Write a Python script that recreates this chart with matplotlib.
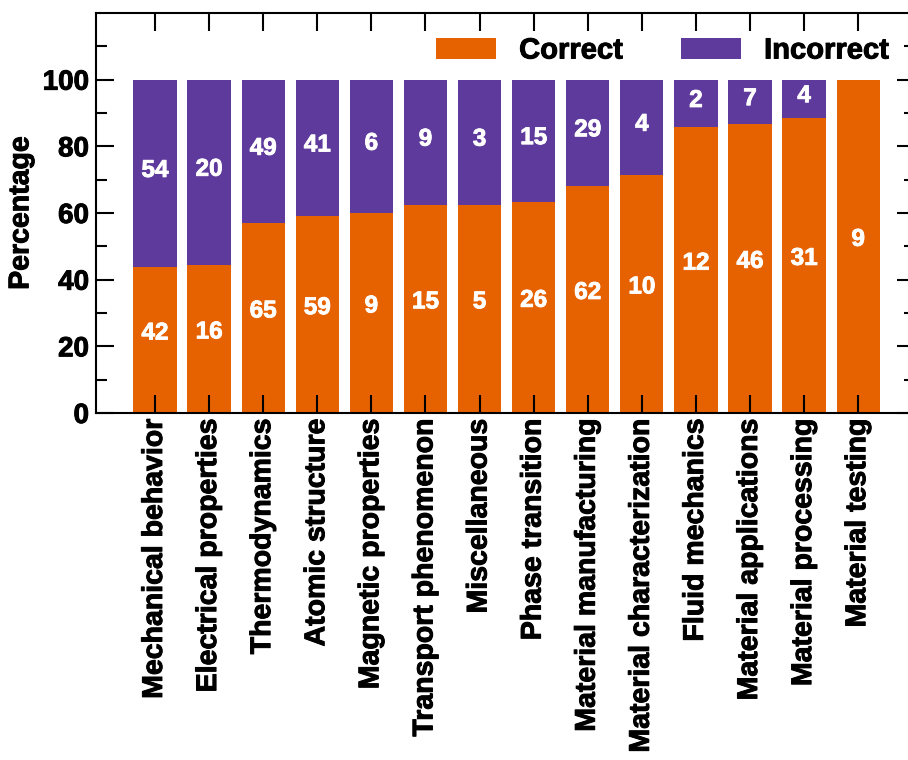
import matplotlib
matplotlib.use("Agg")
import matplotlib.pyplot as plt
import matplotlib.patheffects as pe
import numpy as np
from matplotlib.ticker import FixedLocator

plt.rcParams['font.family'] = ['Liberation Sans', 'DejaVu Sans']
plt.rcParams['font.weight'] = 'bold'
plt.rcParams['axes.labelweight'] = 'bold'

categories = ["Mechanical behavior", "Electrical properties", "Thermodynamics",
              "Atomic structure", "Magnetic properties", "Transport phenomenon",
              "Miscellaneous", "Phase transition", "Material manufacturing",
              "Material characterization", "Fluid mechanics", "Material applications",
              "Material processing", "Material testing"]
correct = [42, 16, 65, 59, 9, 15, 5, 26, 62, 10, 12, 46, 31, 9]
incorrect = [54, 20, 49, 41, 6, 9, 3, 15, 29, 4, 2, 7, 4, 0]

c_arr = np.array(correct, dtype=float)
i_arr = np.array(incorrect, dtype=float)
tot = c_arr + i_arr
pc = c_arr / tot * 100
pi = i_arr / tot * 100

orange = '#E66100'
purple = '#5D3A9B'

heavy = [pe.withStroke(linewidth=0.7, foreground='black')]
heavy_w = [pe.withStroke(linewidth=0.6, foreground='white')]

W, H = 908, 760
fig = plt.figure(figsize=(W / 100, H / 100), dpi=100)
ax = fig.add_axes([96 / W, (H - 413) / H, 819 / W, 400 / H])

x = np.arange(len(categories))
b1 = ax.bar(x, pc, width=0.8, color=orange, label='Correct')
b2 = ax.bar(x, pi, width=0.8, bottom=pc, color=purple, label='Incorrect')

for xi, v, p in zip(x, correct, pc):
    if v:
        ax.annotate(str(v), (xi, p / 2), xytext=(0, 7), textcoords='offset pixels',
                    ha='center', va='center', color='white', fontsize=17.5,
                    fontweight='bold', path_effects=heavy_w)
for xi, v, p, q in zip(x, incorrect, pc, pi):
    if v:
        ax.annotate(str(v), (xi, p + q / 2), xytext=(0, 3), textcoords='offset pixels',
                    ha='center', va='center', color='white', fontsize=17.5,
                    fontweight='bold', path_effects=heavy_w)

ax.set_xlim(-1.09, 14.05)
ax.set_ylim(0, 120)
ax.set_xticks(x)
ax.set_xticklabels(categories, rotation=90, fontsize=20.5, fontweight='bold')
ax.yaxis.set_major_locator(FixedLocator([0, 20, 40, 60, 80, 100]))
ax.yaxis.set_minor_locator(FixedLocator([10, 30, 50, 70, 90, 110]))
ax.tick_params(axis='y', which='major', direction='in', length=13, width=1.5,
               labelsize=20, pad=5, right=True)
ax.tick_params(axis='y', which='minor', direction='in', length=8, width=1.5, right=True)
ax.tick_params(axis='x', which='major', direction='in', length=13, width=1.5,
               pad=4, top=True)
for lab in ax.get_yticklabels() + ax.get_xticklabels():
    lab.set_fontweight('bold')
    lab.set_path_effects(heavy)
for s in ax.spines.values():
    s.set_linewidth(1.5)

ax.set_ylabel('Percentage', fontsize=20.5, fontweight='bold', labelpad=6,
              path_effects=heavy)

leg = fig.legend(handles=[b1, b2], labels=['Correct', 'Incorrect'], ncol=2, frameon=False,
                 loc='center left', bbox_to_anchor=(436 / W, 1 - 50.5 / H),
                 borderpad=0, borderaxespad=0, handlelength=2.05, handleheight=0.72,
                 handletextpad=0.8, columnspacing=2.0,
                 prop={'size': 21, 'weight': 'bold'})
for t in leg.get_texts():
    t.set_path_effects(heavy)

fig.savefig('out.png', dpi=100)
